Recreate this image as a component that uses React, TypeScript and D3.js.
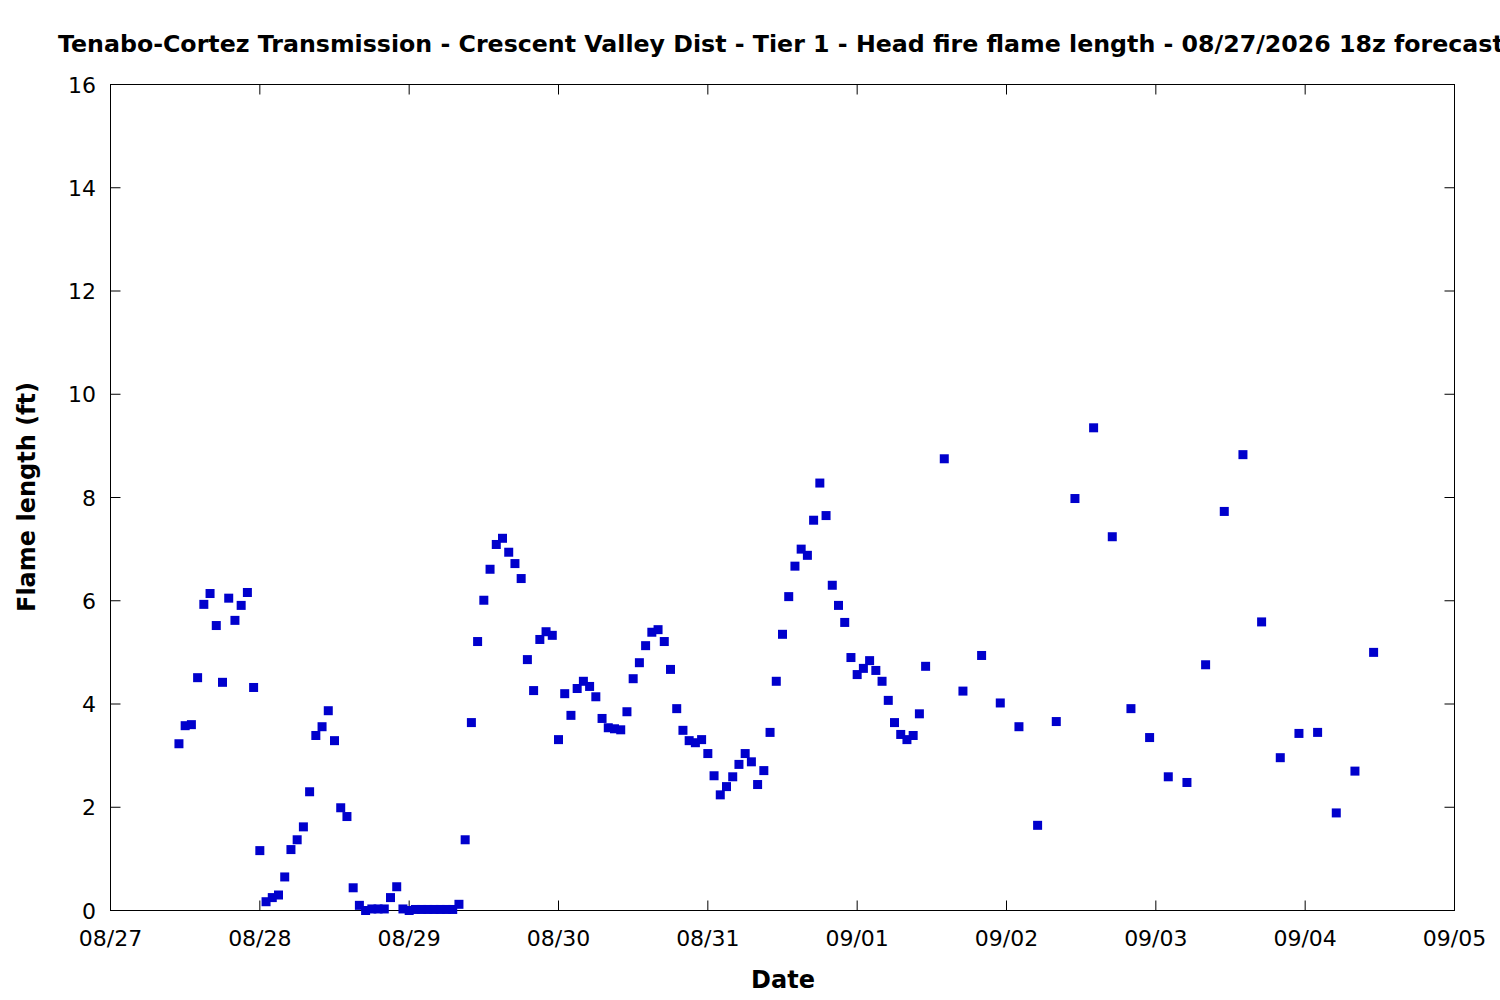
import React from 'react';
import * as d3 from 'd3';

// hourly values, starting 08/27 11z
const hourlyStart = 11;
const hourlyValues = [
  3.23, 3.58, 3.60, 4.51, 5.93, 6.14, 5.52, 4.42, 6.05, 5.62, 5.91, 6.16, 4.32,
  1.16, 0.17, 0.25, 0.30, 0.65, 1.18, 1.37, 1.62, 2.30, 3.39, 3.56, 3.87, 3.29,
  1.99, 1.82, 0.44, 0.10, 0.00, 0.03, 0.03, 0.03, 0.25, 0.46, 0.03, 0.00, 0.02,
  0.02, 0.02, 0.02, 0.02, 0.02, 0.02, 0.12, 1.37, 3.64, 5.21, 6.01, 6.61, 7.09,
  7.21, 6.94, 6.72, 6.43, 4.86, 4.26, 5.25, 5.40, 5.33, 3.31, 4.20, 3.78, 4.30,
  4.44, 4.34, 4.14, 3.72, 3.54, 3.52, 3.50, 3.85, 4.49, 4.80, 5.13, 5.39, 5.44,
  5.21, 4.67, 3.91, 3.49, 3.29, 3.25, 3.31, 3.04, 2.61, 2.24, 2.40, 2.59, 2.83,
  3.04, 2.88, 2.44, 2.71, 3.45, 4.44, 5.35, 6.08, 6.67, 7.00, 6.88, 7.56, 8.28,
  7.65, 6.30, 5.91, 5.58, 4.90, 4.57, 4.69, 4.84, 4.65, 4.44, 4.07, 3.64, 3.41,
  3.31, 3.39, 3.81, 4.73,
];

// 3-hourly values, starting 09/01 14z
const threeHourlyStart = 134;
const threeHourlyValues = [
  8.75, 4.25, 4.94, 4.02, 3.56, 1.65, 3.66, 7.98, 9.35, 7.24, 3.91, 3.35,
  2.59, 2.48, 4.76, 7.73, 8.83, 5.59, 2.96, 3.43, 3.45, 1.89, 2.70, 5.00,
];

const dateLabels = ['08/27', '08/28', '08/29', '08/30', '08/31', '09/01', '09/02', '09/03', '09/04', '09/05'];
const yTicks = [0, 2, 4, 6, 8, 10, 12, 14, 16];

const title = 'Tenabo-Cortez Transmission - Crescent Valley Dist - Tier 1 - Head fire flame length - 08/27/2026 18z forecast';

const W = 1500;
const H = 1000;
const left = 110.5;
const right = 1454.5;
const top = 84.5;
const bottom = 910.5;

const App: React.FC = () => {
  const x = d3.scaleLinear().domain([0, (dateLabels.length - 1) * 24]).range([left, right]);
  const y = d3.scaleLinear().domain([0, 16]).range([bottom, top]);

  const points = [
    ...hourlyValues.map((v, i) => ({ t: hourlyStart + i, v })),
    ...threeHourlyValues.map((v, i) => ({ t: threeHourlyStart + i * 3, v })),
  ];

  const font = 'DejaVu Sans, sans-serif';
  const tickLen = 10;
  const ms = 9;

  return (
    <svg width={W} height={H} style={{ position: 'absolute', left: 0, top: 0, background: '#fff' }}>
      <text x={58} y={52} fontFamily={font} fontWeight="bold" fontSize={23.7} fill="#000">{title}</text>

      {/* frame */}
      <rect x={left} y={top} width={right - left} height={bottom - top} fill="none" stroke="#000" strokeWidth={1} />

      {yTicks.map(t => (
        <g key={'y' + t}>
          <line x1={left} x2={left + tickLen} y1={y(t)} y2={y(t)} stroke="#000" />
          <line x1={right} x2={right - tickLen} y1={y(t)} y2={y(t)} stroke="#000" />
          <text x={96} y={y(t) + 8} textAnchor="end" fontFamily={font} fontSize={22}>{t}</text>
        </g>
      ))}

      {dateLabels.map((lab, i) => (
        <g key={lab}>
          <line x1={x(i * 24)} x2={x(i * 24)} y1={bottom} y2={bottom - tickLen} stroke="#000" />
          <line x1={x(i * 24)} x2={x(i * 24)} y1={top} y2={top + tickLen} stroke="#000" />
          <text x={x(i * 24)} y={946} textAnchor="middle" fontFamily={font} fontSize={22}>{lab}</text>
        </g>
      ))}

      <text x={783} y={988} textAnchor="middle" fontFamily={font} fontWeight="bold" fontSize={24}>Date</text>
      <text transform={`translate(35, 497) rotate(-90)`} textAnchor="middle" fontFamily={font} fontWeight="bold" fontSize={24}>Flame length (ft)</text>

      {points.map((p, i) => (
        <rect key={i} x={x(p.t) - ms / 2} y={y(p.v) - ms / 2} width={ms} height={ms} fill="#0000cc" />
      ))}
    </svg>
  );
};

export default App;
